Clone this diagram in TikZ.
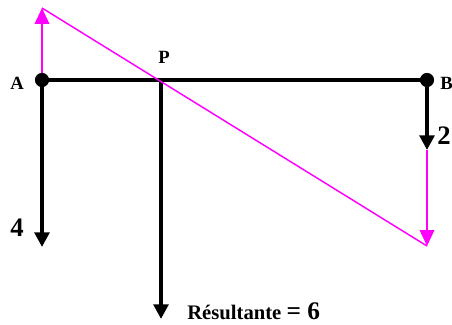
\documentclass[tikz,border=0pt]{standalone}
\usepackage{fontspec}
\setmainfont{Liberation Serif}
\usetikzlibrary{arrows.meta}
\definecolor{mag}{RGB}{255,0,255}

\begin{document}
\begin{tikzpicture}[x=0.75pt,y=-0.75pt,
  force/.style={line width=3pt,-{Triangle[width=11pt,length=11pt]}},
  comp/.style={mag,line width=1.1pt,-{Triangle[width=11pt,length=12pt]}},
  lab/.style={font=\bfseries\fontsize{14}{16}\selectfont,inner sep=0pt}]
\useasboundingbox (0,0) rectangle (452,324);
\coordinate (A) at (42,80);
\coordinate (B) at (427,80);
\coordinate (P) at (161,80);
\coordinate (Atop) at (42,8);
\coordinate (Abot) at (42,247);
\coordinate (Bbot) at (427,150);
\coordinate (Bend) at (427,246);
\coordinate (Pbot) at (161,319);
% barre et forces
\draw[line width=3pt] (A) -- (B);
\draw[force] (A) -- (Abot);
\draw[force] (B) -- (Bbot);
\draw[force] (P) -- (Pbot);
% construction
\draw[comp] (A) -- (Atop);
\draw[comp] (Bbot) -- (Bend);
\draw[mag,line width=1.1pt] (Atop) -- (Bend);
\fill (A) circle (5.3pt);
\fill (B) circle (5.3pt);
% textes
\node[lab] (labA) at (17,83) {A};
\node[lab,anchor=west] (labB) at (440,83) {B};
\node[lab] (labP) at (164,57) {P};
\node[lab,font=\bfseries\fontsize{20}{22}\selectfont] (lab4) at (17,228) {4};
\node[lab,font=\bfseries\fontsize{20}{22}\selectfont,anchor=west] (lab2) at (437,136) {2};
\node[lab,anchor=west] (labR) at (187,311) {\fontsize{15.5}{17}\selectfont Résultante {\fontsize{19}{21}\selectfont= 6}};
\end{tikzpicture}
\end{document}
